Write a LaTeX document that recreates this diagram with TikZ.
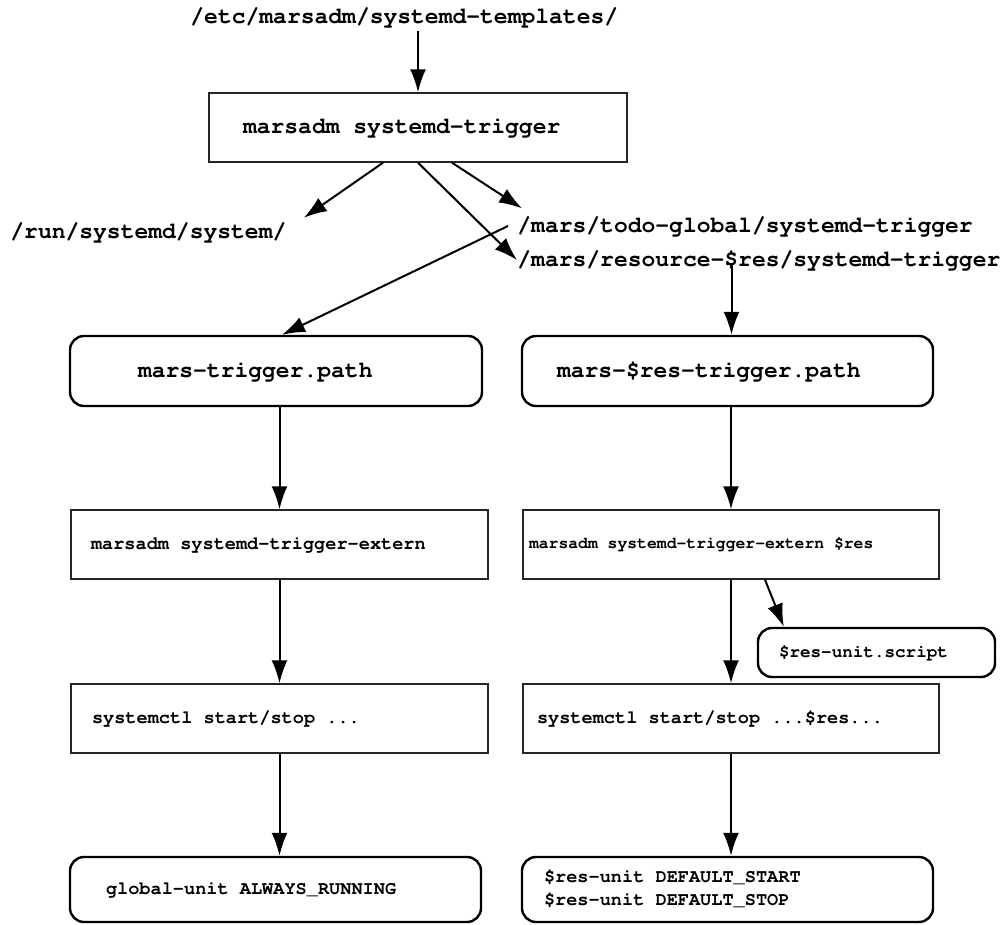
\documentclass[tikz,border=0pt]{standalone}
\usepackage[T1]{fontenc}
\usepackage{courier}
\usetikzlibrary{arrows.meta}

\newcommand{\bigtt}{\fontsize{11.5}{14}\selectfont\ttfamily\bfseries}
\newcommand{\midtt}{\fontsize{9.3}{11.5}\selectfont\ttfamily\bfseries}
\newcommand{\restt}{\fontsize{8.2}{10}\selectfont\ttfamily\bfseries}
\newcommand{\scrtt}{\fontsize{8.8}{10.5}\selectfont\ttfamily\bfseries}

\begin{document}
\begin{tikzpicture}[x=0.5pt, y=-0.5pt,
    arr/.style={-{Latex[length=11.5pt,width=8pt]}, line width=1pt},
    lbl/.style={inner sep=0pt, anchor=west, font=\bigtt},
    mono/.style={align=left, execute at begin node={\spaceskip=0.6em\xspaceskip=0.6em\relax}},
    pbox/.style={mono, draw=black!85, line width=0.7pt, minimum height=34.5pt},
    rbox/.style={mono, draw, rounded corners=7pt, line width=1.2pt}]
    \useasboundingbox (0,0) rectangle (1003,925);

    % templates and the trigger command
    \node[lbl] (tmpl) at (190,18) {/etc/marsadm/systemd-templates/};
    \node[pbox, inner xsep=17pt, text width=175pt, font=\bigtt] (trig) at (418,127.5) {marsadm systemd-trigger};

    % generated directories
    \node[lbl] (runsys) at (10,233) {/run/systemd/system/};
    \node[lbl] (todo) at (517,226) {/mars/todo-global/systemd-trigger};
    \node[lbl] (resdir) at (517,260) {/mars/resource-\$res/systemd-trigger};

    % path units
    \node[rbox, inner xsep=34pt, text width=138pt, minimum height=35pt, font=\bigtt] (trigpath) at (276,371) {mars-trigger.path};
    \node[rbox, inner xsep=17.5pt, text width=170.5pt, minimum height=35pt, font=\bigtt] (respath) at (727.5,371) {mars-\$res-trigger.path};

    % extern calls
    \node[pbox, inner xsep=10pt, text width=188.5pt, font=\midtt] (extern) at (279.5,544.5) {marsadm systemd-trigger-extern};
    \node[pbox, inner xsep=3pt, text width=202pt, font=\restt] (resextern) at (731,544.5) {marsadm systemd-trigger-extern \$res};
    \node[rbox, inner xsep=10.5pt, text width=97.5pt, minimum height=24.5pt, font=\scrtt] (script) at (876.5,652.5) {\$res-unit.script};

    % systemctl
    \node[pbox, inner xsep=10.5pt, text width=187.5pt, font=\midtt] (ctl) at (279.5,718.5) {systemctl start/stop ...};
    \node[pbox, inner xsep=7pt, text width=194pt, font=\midtt] (resctl) at (731,718.5) {systemctl start/stop ...\$res...};

    % units
    \node[rbox, inner xsep=18pt, text width=169.5pt, minimum height=32.5pt, font=\midtt] (gunit) at (275.5,889.5) {global-unit ALWAYS\_RUNNING};
    \node[rbox, inner xsep=11pt, text width=183.5pt, minimum height=32.5pt, font=\midtt] (resunit) at (727.5,889.5) {\$res-unit DEFAULT\_START\\\$res-unit DEFAULT\_STOP};

    % connectors
    \draw[arr] ([yshift=-2pt]tmpl.south -| trig.north) -- (trig.north);
    \draw[arr] ([xshift=-17.5pt]trig.south) -- ([xshift=8.5pt,yshift=3pt]runsys.north east);
    \draw[arr] (trig.south) -- (resdir.west);
    \draw[arr] ([xshift=17pt]trig.south) -- ([xshift=2.5pt,yshift=4pt]todo.north west);
    \draw[arr] ([xshift=-4.5pt]todo.west) -- ([xshift=3pt]trigpath.north);
    \draw[arr] ([xshift=2pt,yshift=-2.5pt]respath.north |- resdir.center) -- ([xshift=2pt]respath.north);
    \draw[arr] (extern.north |- trigpath.south) -- (extern.north);
    \draw[arr] (resextern.north |- respath.south) -- (resextern.north);
    \draw[arr] (extern) -- (ctl);
    \draw[arr] (resextern) -- (resctl);
    \draw[arr] ([xshift=17pt]resextern.south) -- ([xshift=13.5pt]script.north west);
    \draw[arr] (ctl.south) -- (ctl.south |- gunit.north);
    \draw[arr] (resctl.south) -- (resctl.south |- resunit.north);
\end{tikzpicture}
\end{document}
